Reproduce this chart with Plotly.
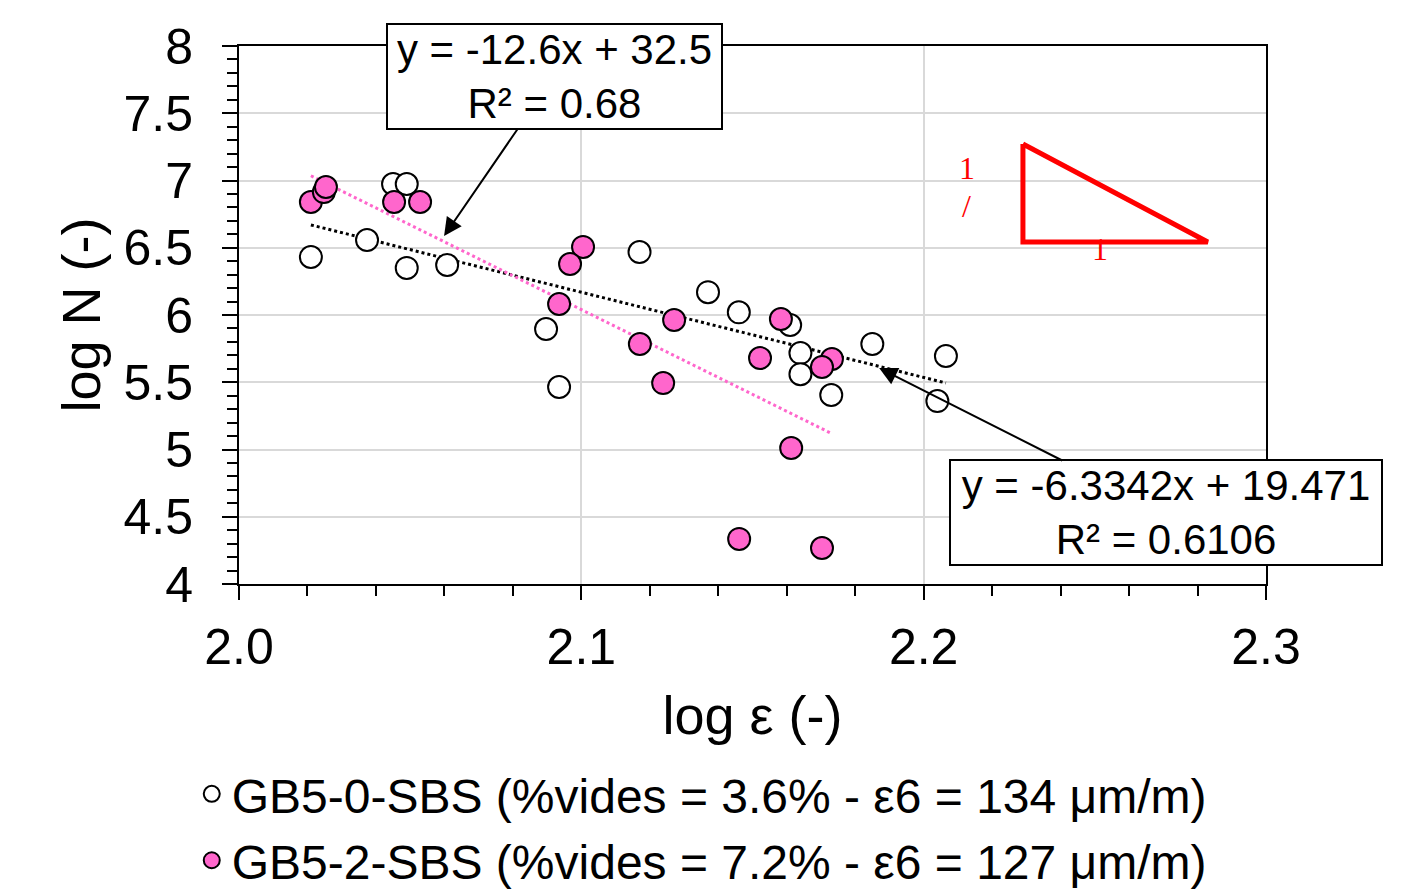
import plotly.graph_objects as go
import numpy as np

# ---- data ----
x_gb50 = [2.021, 2.0374, 2.045, 2.049, 2.049, 2.0608, 2.0897, 2.0935, 2.117, 2.137,
          2.146, 2.161, 2.164, 2.164, 2.173, 2.185, 2.204, 2.2065]
y_gb50 = [6.431, 6.558, 6.974, 6.974, 6.350, 6.372, 5.896, 5.465, 6.468, 6.170,
          6.020, 5.926, 5.717, 5.560, 5.405, 5.784, 5.360, 5.695]

x_gb52 = [2.021, 2.0248, 2.0254, 2.0453, 2.0529, 2.1005, 2.0967, 2.0935, 2.1271, 2.1171,
          2.1239, 2.1583, 2.1522, 2.1732, 2.1703, 2.1613, 2.1461, 2.1703]
y_gb52 = [6.840, 6.914, 6.952, 6.840, 6.840, 6.506, 6.379, 6.082, 5.963, 5.784,
          5.494, 5.970, 5.680, 5.673, 5.613, 5.011, 4.335, 4.268]

names = ["GB5-0-SBS (%vides = 3.6% - ε6 = 134 μm/m)",
         "GB5-2-SBS (%vides = 7.2% - ε6 = 127 μm/m)"]

# trendline equations (as printed)
slope_gb50, icpt_gb50, r2_gb50 = -6.3342, 19.471, "0.6106"
slope_gb52, icpt_gb52, r2_gb52 = -12.6, 32.5, "0.68"

# slope triangle
tri_x = [2.229, 2.229, 2.283, 2.229]
tri_y = [7.271, 6.543, 6.543, 7.271]

FONT = "Liberation Sans, Arial, sans-serif"
SERIF = "Liberation Serif, Times New Roman, serif"
PINK = "#FF66CC"

fig = go.Figure()

# trendlines
xa = np.array([min(x_gb50), max(x_gb50)])
fig.add_trace(go.Scatter(x=xa, y=slope_gb50 * xa + icpt_gb50, mode="lines",
                         line=dict(color="black", width=3, dash="dot"),
                         showlegend=False, hoverinfo="skip"))
xb = np.array([min(x_gb52), max(x_gb52)])
fig.add_trace(go.Scatter(x=xb, y=slope_gb52 * xb + icpt_gb52, mode="lines",
                         line=dict(color=PINK, width=3, dash="dot"),
                         showlegend=False, hoverinfo="skip"))

fig.add_trace(go.Scatter(x=x_gb50, y=y_gb50, mode="markers", name=names[0],
                         marker=dict(size=22, color="white", line=dict(color="black", width=2)),
                         legendgroup="a"))
fig.add_trace(go.Scatter(x=x_gb52, y=y_gb52, mode="markers", name=names[1],
                         marker=dict(size=22, color=PINK, line=dict(color="black", width=2)),
                         legendgroup="b"))

# triangle
fig.add_trace(go.Scatter(x=tri_x, y=tri_y, mode="lines",
                         line=dict(color="red", width=5), showlegend=False, hoverinfo="skip"))

# annotations (equation boxes)
fig.add_annotation(x=2.0599, y=6.587, xref="x", yref="y",
                   text=f"y = {slope_gb52}x + {icpt_gb52}<br>R² = {r2_gb52}",
                   showarrow=True, arrowhead=2, arrowsize=1.8, arrowwidth=2, arrowcolor="black",
                   ax=110, ay=-160, width=327, height=97,
                   font=dict(family=FONT, size=42, color="black"),
                   bgcolor="white", bordercolor="black", borderwidth=2, borderpad=3, align="center")
fig.add_annotation(x=2.187, y=5.606, xref="x", yref="y",
                   text=f"y = {slope_gb50}x + {icpt_gb50}<br>R² = {r2_gb50}",
                   showarrow=True, arrowhead=2, arrowsize=1.8, arrowwidth=2, arrowcolor="black",
                   ax=287, ay=145, width=424, height=97,
                   font=dict(family=FONT, size=42, color="black"),
                   bgcolor="white", bordercolor="black", borderwidth=2, borderpad=3, align="center")

# triangle labels
fig.add_annotation(x=2.2128, y=7.09, text="1", showarrow=False,
                   font=dict(family=SERIF, size=32, color="red"))
fig.add_annotation(x=2.2125, y=6.81, text="/", showarrow=False,
                   font=dict(family=SERIF, size=32, color="red"))
fig.add_annotation(x=2.2515, y=6.49, text="1", showarrow=False,
                   font=dict(family=SERIF, size=32, color="red"))

fig.update_xaxes(range=[2.0, 2.3], dtick=0.1, tickformat=".1f",
                 showgrid=True, gridcolor="#d9d9d9", gridwidth=2,
                 showline=True, linecolor="black", linewidth=2, mirror=True,
                 ticks="outside", ticklen=14, tickwidth=2, tickcolor="black",
                 minor=dict(dtick=0.02, ticks="outside", ticklen=10, tickwidth=2, tickcolor="black", showgrid=False),
                 tickfont=dict(family=FONT, size=50, color="black"), ticklabelstandoff=4,
                 title=dict(text="log ε (-)", font=dict(family=FONT, size=54, color="black"), standoff=22),
                 zeroline=False, automargin=False)
fig.update_yaxes(range=[4, 8], tickvals=[4, 4.5, 5, 5.5, 6, 6.5, 7, 7.5, 8],
                 ticktext=["4", "4.5", "5", "5.5", "6", "6.5", "7", "7.5", "8"],
                 showgrid=True, gridcolor="#d9d9d9", gridwidth=2,
                 showline=True, linecolor="black", linewidth=2, mirror=True,
                 ticks="outside", ticklen=15, tickwidth=2, tickcolor="black",
                 minor=dict(dtick=0.1, ticks="outside", ticklen=10, tickwidth=2, tickcolor="black", showgrid=False),
                 tickfont=dict(family=FONT, size=50, color="black"), ticklabelstandoff=19,
                 title=dict(text="log N (-)", font=dict(family=FONT, size=54, color="black"), standoff=6),
                 zeroline=False, automargin=False)

fig.update_layout(
    width=1410, height=890,
    margin=dict(l=231, r=152, t=38, b=314, autoexpand=False),
    plot_bgcolor="white", paper_bgcolor="white",
    font=dict(family=FONT, color="black"),
    legend=dict(x=-0.046, y=-0.32, xanchor="left", yanchor="top",
                font=dict(family=FONT, size=48, color="black"),
                tracegroupgap=1, bgcolor="rgba(0,0,0,0)", itemwidth=30),
)

fig.write_html("out.html")
